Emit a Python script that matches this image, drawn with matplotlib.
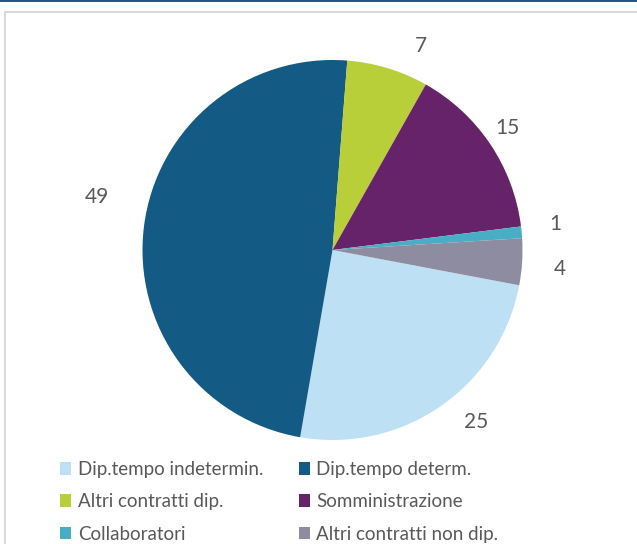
import matplotlib.pyplot as plt
from matplotlib.patches import Rectangle, Patch
import numpy as np

plt.rcParams['font.family'] = ['Lato', 'DejaVu Sans']

categories = ['Dip.tempo indetermin.', 'Dip.tempo determ.', 'Altri contratti dip.',
              'Somministrazione', 'Collaboratori', 'Altri contratti non dip.']
values = [25, 49, 7, 15, 1, 4]
colors = ['#bde0f5', '#135a85', '#b9cf3a', '#67236a', '#4aadc6', '#8e8ca0']
# label placement (radius factor, angular shift in degrees)
label_dist = [1.18, 1.27, 1.17, 1.12, 1.18, 1.2]
label_shift = [5.2, -5.5, -6.4, 1.0, 1.2, -1.3]

W, H = 637, 544
fig = plt.figure(figsize=(W / 100, H / 100), dpi=100)

# frame: blue line on top, light grey box
fig.add_artist(Rectangle((0, 1 - 2 / H), 1, 2 / H, transform=fig.transFigure,
                         facecolor='#1f5a85', edgecolor='none'))
fig.add_artist(Rectangle((4.5 / W, -0.1), 1.1, 1.1 - 12 / H, transform=fig.transFigure,
                         facecolor='none', edgecolor='#d9d9d9', linewidth=1.5))

cx, cy, r = 332.5, 250, 190
ax = fig.add_axes([(cx - r) / W, 1 - (cy + r) / H, 2 * r / W, 2 * r / H])
wedges, _ = ax.pie(values, colors=colors, startangle=-10.7, counterclock=False,
                   radius=1, wedgeprops=dict(linewidth=0))
ax.set_xlim(-1, 1)
ax.set_ylim(-1, 1)
ax.axis('off')

for w, v, d, s in zip(wedges, values, label_dist, label_shift):
    ang = np.deg2rad((w.theta1 + w.theta2) / 2 + s)
    ax.text(d * np.cos(ang), d * np.sin(ang), str(v), ha='center', va='center',
            fontsize=15, color='#595959', clip_on=False)

# row-major order for a 2-column legend
order = [0, 2, 4, 1, 3, 5]
handles = [Patch(facecolor=colors[i], edgecolor='none') for i in order]
labels = [categories[i] for i in order]
fig.legend(handles, labels, ncol=2, loc='upper left',
           bbox_to_anchor=(43 / W, 1 - 444 / H), frameon=False, fontsize=13.5,
           handlelength=0.6, handleheight=0.65, handletextpad=0.35,
           columnspacing=1.9, labelspacing=0.82, labelcolor='#595959')

fig.savefig('out.png', dpi=100)
